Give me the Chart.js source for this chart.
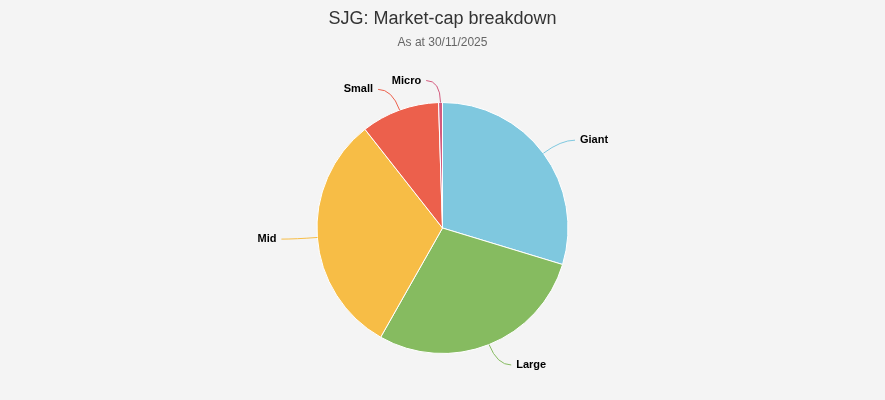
<!DOCTYPE html>
<html>
<head>
<meta charset="utf-8">
<script src="https://cdn.jsdelivr.net/npm/chart.js@4"></script>
<style>
  html, body { margin: 0; padding: 0; background: #f4f4f4; }
  #wrap { width: 885px; height: 400px; }
</style>
</head>
<body>
<div id="wrap"><canvas id="pie"></canvas></div>
<script>
// Data
const categories = ['Giant', 'Large', 'Mid', 'Small', 'Micro'];
const shares = [29.7, 28.5, 31.2, 10.1, 0.5];
const sliceColors = ['#7fc8df', '#86bb60', '#f7bd46', '#ec604c', '#d45a7e'];

const titleText = 'SJG: Market-cap breakdown';
const subtitleText = 'As at 30/11/2025';

// Titles and the Highcharts-style data labels with connectors
const labelPlugin = {
    id: 'pieLabels',
    afterDraw(chart) {
        const ctx = chart.ctx;
        const w = chart.width;
        ctx.save();
        ctx.textAlign = 'center';
        ctx.textBaseline = 'alphabetic';
        ctx.fillStyle = '#333333';
        ctx.font = '18px "Liberation Sans", Arial, sans-serif';
        ctx.fillText(titleText, w / 2, 24);
        ctx.fillStyle = '#666666';
        ctx.font = '12px "Liberation Sans", Arial, sans-serif';
        ctx.fillText(subtitleText, w / 2, 46);

        const meta = chart.getDatasetMeta(0);
        meta.data.forEach((arc, i) => {
            const mid = (arc.startAngle + arc.endAngle) / 2;
            const r = arc.outerRadius;
            const cos = Math.cos(mid), sin = Math.sin(mid);
            const p0 = { x: arc.x + cos * r, y: arc.y + sin * r };
            const p1 = { x: arc.x + cos * (r + 22), y: arc.y + sin * (r + 22) };
            const right = cos >= 0;
            const p2 = { x: p1.x + (right ? 14 : -14), y: p1.y };
            ctx.strokeStyle = sliceColors[i];
            ctx.lineWidth = 1;
            ctx.beginPath();
            ctx.moveTo(p0.x, p0.y);
            ctx.quadraticCurveTo(p1.x, p1.y, p2.x, p2.y);
            ctx.stroke();
            ctx.fillStyle = '#000000';
            ctx.font = 'bold 11px "Liberation Sans", Arial, sans-serif';
            ctx.textAlign = right ? 'left' : 'right';
            ctx.textBaseline = 'middle';
            ctx.fillText(categories[i], p2.x + (right ? 5 : -5), p2.y);
        });
        ctx.restore();
    }
};

new Chart(document.getElementById('pie'), {
    type: 'pie',
    data: {
        labels: categories,
        datasets: [{
            data: shares,
            backgroundColor: sliceColors,
            borderColor: '#ffffff',
            borderWidth: 1
        }]
    },
    options: {
        responsive: true,
        maintainAspectRatio: false,
        animation: false,
        layout: { padding: { top: 102, bottom: 46 } },
        plugins: {
            legend: { display: false },
            tooltip: { enabled: false }
        }
    },
    plugins: [labelPlugin]
});
</script>
</body>
</html>
